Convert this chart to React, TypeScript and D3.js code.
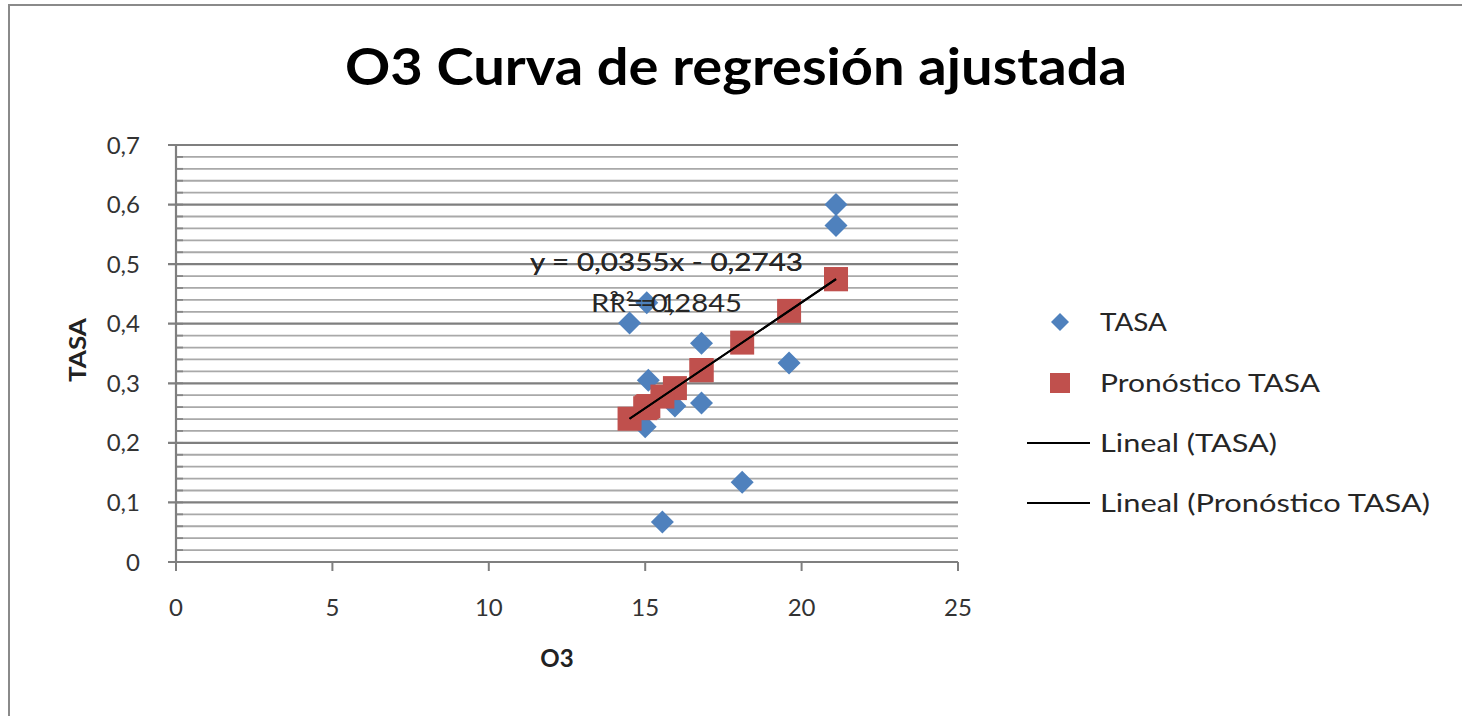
import React from "react";
import * as d3 from "d3";

// ---- Data ----
const tasaX = [21.1, 21.1, 14.5, 15.05, 16.8, 19.6, 15.1, 16.8, 15.95, 15.0, 18.1, 15.55];
const tasaY = [0.6, 0.565, 0.401, 0.435, 0.367, 0.334, 0.305, 0.267, 0.262, 0.227, 0.134, 0.067];
const pronY = [0.4748, 0.4748, 0.2405, 0.26, 0.3221, 0.4215, 0.2618, 0.3221, 0.2919, 0.2582, 0.3683, 0.2777];
const trendSlope = 0.0355;
const trendIntercept = -0.2743;
const xTicks = [0, 5, 10, 15, 20, 25];
const yTicks = [0, 0.1, 0.2, 0.3, 0.4, 0.5, 0.6, 0.7];
const yTickLabels = ["0", "0,1", "0,2", "0,3", "0,4", "0,5", "0,6", "0,7"];
const yMinor = d3.range(0, 36).map((i) => i * 0.02);
const legendItems = ["TASA", "Pronóstico TASA", "Lineal (TASA)", "Lineal (Pronóstico TASA)"];
const legendWidths = [67, 220, 177, 330];

const W = 1462;
const H = 716;
const FONT = "Lato, 'Open Sans', sans-serif";

export default function App() {
  const x = d3.scaleLinear().domain([0, 25]).range([176, 958]);
  const y = d3.scaleLinear().domain([0, 0.7]).range([562, 145]);

  const xMin = d3.min(tasaX) as number;
  const xMax = d3.max(tasaX) as number;
  const trendPts: [number, number][] = [xMin, xMax].map((v) => [v, trendSlope * v + trendIntercept]);
  const line = d3
    .line<[number, number]>()
    .x((d) => x(d[0]))
    .y((d) => y(d[1]));

  const diamond = (cx: number, cy: number, r: number) =>
    `M${cx},${cy - r}L${cx + r},${cy}L${cx},${cy + r}L${cx - r},${cy}Z`;

  const legendRows = [322, 383, 443, 503];

  return (
    <svg
      width={W}
      height={H}
      style={{ position: "absolute", left: 0, top: 0, background: "#fff" }}
      fontFamily={FONT}
    >
      <rect x={0} y={0} width={W} height={H} fill="#fff" />
      {/* frame */}
      <line x1={8} y1={5} x2={W} y2={5} stroke="#8a8a8a" strokeWidth={2} />
      <line x1={9} y1={5} x2={9} y2={H} stroke="#8a8a8a" strokeWidth={2} />

      {/* title */}
      <text
        x={736}
        y={85}
        textAnchor="middle"
        fontSize={51}
        fontWeight="bold"
        fill="#000"
        textLength={782}
        lengthAdjust="spacingAndGlyphs"
      >
        O3 Curva de regresión ajustada
      </text>

      {/* minor gridlines */}
      {yMinor
        .filter((v) => Math.abs(Math.round(v * 10) - v * 10) > 1e-6)
        .map((v, i) => (
          <line key={"mn" + i} x1={x(0)} x2={x(25)} y1={y(v)} y2={y(v)} stroke="#a9a9a9" strokeWidth={1.8} />
        ))}
      {/* minor ticks inside */}
      {yMinor.map((v, i) => (
        <line key={"mt" + i} x1={x(0)} x2={x(0) + 7} y1={y(v)} y2={y(v)} stroke="#868686" strokeWidth={1.8} />
      ))}
      {/* major gridlines */}
      {yTicks.map((v, i) => (
        <line key={"mj" + i} x1={x(0) - 8} x2={x(25)} y1={y(v)} y2={y(v)} stroke="#7f7f7f" strokeWidth={2.2} />
      ))}
      {/* y axis */}
      <line x1={x(0)} x2={x(0)} y1={y(0.7)} y2={y(0)} stroke="#7f7f7f" strokeWidth={2.2} />
      {/* x axis ticks */}
      {xTicks.map((v, i) => (
        <line key={"xt" + i} x1={x(v)} x2={x(v)} y1={y(0)} y2={y(0) + 9} stroke="#7f7f7f" strokeWidth={2} />
      ))}

      {/* y tick labels */}
      {yTicks.map((v, i) => (
        <text key={"yl" + i} x={140} y={y(v) + 8.5} textAnchor="end" fontSize={24} fill="#333">
          {yTickLabels[i]}
        </text>
      ))}
      {/* x tick labels */}
      {xTicks.map((v, i) => (
        <text key={"xl" + i} x={x(v)} y={616} textAnchor="middle" fontSize={24} fill="#333">
          {String(v)}
        </text>
      ))}

      {/* axis titles */}
      <text
        transform="translate(86,350) rotate(-90)"
        textAnchor="middle"
        fontSize={23}
        fontWeight="bold"
        fill="#222"
        textLength={64}
        lengthAdjust="spacingAndGlyphs"
      >
        TASA
      </text>
      <text x={557} y={667} textAnchor="middle" fontSize={24} fontWeight="bold" fill="#222">
        O3
      </text>

      {/* TASA diamonds */}
      {tasaX.map((v, i) => (
        <path key={"d" + i} d={diamond(x(v), y(tasaY[i]), 11.5)} fill="#4f81bd" />
      ))}
      {/* Pronóstico squares */}
      {tasaX.map((v, i) => (
        <rect key={"s" + i} x={x(v) - 12} y={y(pronY[i]) - 12} width={24} height={24} fill="#c0504d" />
      ))}

      {/* trend lines */}
      <path d={line(trendPts) || ""} stroke="#000" strokeWidth={2} fill="none" />
      <path d={line(trendPts) || ""} stroke="#000" strokeWidth={2} fill="none" />

      {/* trendline labels (overlapping, as in the original) */}
      <text x={530} y={271} fontSize={25} fill="#262626" textLength={273} lengthAdjust="spacingAndGlyphs">
        y = 0,0355x - 0,2743
      </text>
      <text x={530} y={271} fontSize={25} fill="#262626" textLength={273} lengthAdjust="spacingAndGlyphs">
        y = 0,0355x - 0,2743
      </text>
      <text x={591} y={312} fontSize={25} fill="#262626" textLength={151} lengthAdjust="spacingAndGlyphs">
        R² = 0,2845
      </text>
      <text x={610} y={312} fontSize={25} fill="#262626">
        R² = 1
      </text>

      {/* legend */}
      <path d={diamond(1060, legendRows[0], 9)} fill="#4f81bd" />
      <rect x={1050} y={legendRows[1] - 10} width={20} height={20} fill="#c0504d" />
      <line x1={1027} x2={1090} y1={legendRows[2]} y2={legendRows[2]} stroke="#000" strokeWidth={2} />
      <line x1={1027} x2={1090} y1={legendRows[3]} y2={legendRows[3]} stroke="#000" strokeWidth={2} />
      {legendItems.map((t, i) => (
        <text
          key={"lg" + i}
          x={1100}
          y={legendRows[i] + 9}
          fontSize={25}
          fill="#262626"
          textLength={legendWidths[i]}
          lengthAdjust="spacingAndGlyphs"
        >
          {t}
        </text>
      ))}
    </svg>
  );
}
